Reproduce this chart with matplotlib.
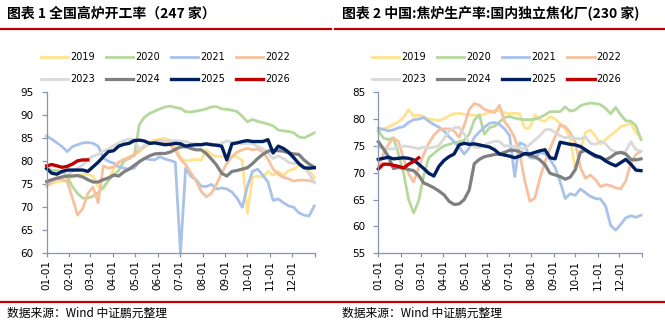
import numpy as np
import matplotlib
matplotlib.use("Agg")
import matplotlib.pyplot as plt
from matplotlib.lines import Line2D

# ---------------------------------------------------------------- data (weekly, %)
years = ["2019", "2020", "2021", "2022", "2023", "2024", "2025", "2026"]

# 全国高炉开工率 (247家)
bf_2019 = [74.7, 75.2, 75.5, 75.7, 76.0, 76.6, 77.0, 77.2, 77.1, 76.8,
           74.5, 74.0, 75.8, 78.3, 79.7, 80.4, 81.0, 81.5, 82.0, 83.2,
           84.2, 84.6, 84.8, 85.0, 84.6, 83.2, 80.8, 80.1, 80.3, 80.4,
           80.2, 82.5, 81.5, 81.0, 81.1, 80.9, 81.2, 81.0, 80.2, 68.7,
           76.5, 76.8, 76.6, 77.8, 77.0, 77.8, 76.9, 78.0, 78.3, 79.0,
           78.8, 78.0, 76.5]
bf_2020 = [78.6, 78.0, 78.0, 77.8, 76.6, 74.5, 73.0, 72.0, 72.0, 72.4,
           73.2, 74.4, 75.8, 77.0, 78.0, 80.0, 80.8, 81.2, 88.0, 89.6,
           90.4, 90.9, 91.4, 91.8, 92.0, 91.7, 91.5, 90.8, 90.7, 90.9,
           91.1, 91.4, 91.8, 91.9, 91.4, 91.3, 91.1, 90.8, 89.8, 88.6,
           89.1, 88.7, 88.4, 88.1, 87.7, 86.8, 86.6, 86.5, 86.2, 85.3,
           85.1, 85.6, 86.2]
bf_2021 = [85.5, 84.8, 84.0, 83.2, 82.1, 83.2, 83.6, 84.0, 84.1, 83.9,
           83.3, 80.7, 80.0, 79.6, 78.8, 78.5, 78.3, 78.5, 80.0, 80.6,
           80.4, 80.3, 81.0, 80.5, 80.2, 79.8, 60.0, 78.5, 76.8, 76.0,
           74.6, 74.5, 75.0, 74.0, 74.2, 74.0, 73.3, 72.0, 70.0, 74.5,
           77.8, 78.3, 77.0, 75.5, 71.5, 71.8, 71.0, 70.3, 70.0, 68.8,
           68.3, 68.1, 70.3]
bf_2022 = [74.6, 75.5, 76.5, 76.0, 75.6, 72.0, 68.3, 69.7, 73.0, 74.4,
           71.0, 79.0, 78.5, 78.8, 79.8, 80.4, 80.5, 81.5, 82.5, 83.2,
           83.8, 84.2, 84.6, 84.3, 83.6, 82.3, 80.5, 79.3, 77.5, 75.8,
           73.5, 72.3, 73.0, 75.0, 77.5, 79.5, 81.0, 82.0, 82.5, 82.8,
           82.5, 82.7, 82.0, 80.5, 78.3, 77.2, 76.5, 76.2, 75.7, 75.9,
           75.9, 75.8, 75.5]
bf_2023 = [75.5, 75.8, 76.2, 76.6, 77.0, 77.8, 78.5, 79.2, 80.5, 81.1,
           81.5, 82.2, 82.7, 83.4, 84.0, 84.5, 84.8, 84.6, 82.6, 83.5,
           84.0, 84.2, 84.2, 84.4, 84.4, 84.5, 84.4, 84.3, 83.9, 83.8,
           83.7, 83.7, 83.8, 83.6, 84.0, 84.4, 84.2, 84.0, 83.8, 83.9,
           83.9, 83.2, 82.7, 81.8, 80.6, 81.2, 80.6, 79.8, 79.5, 79.6,
           78.7, 77.3, 75.3]
bf_2024 = [75.6, 76.0, 76.3, 76.6, 76.8, 76.8, 76.9, 76.6, 76.0, 75.5,
           75.5, 76.0, 76.4, 77.0, 76.8, 77.7, 78.3, 79.1, 79.9, 80.6,
           81.2, 81.6, 81.7, 81.7, 82.0, 82.6, 83.1, 83.2, 82.8, 82.5,
           82.5, 81.7, 80.5, 79.2, 77.4, 76.8, 77.8, 78.0, 78.3, 78.6,
           79.5, 80.6, 81.5, 82.2, 82.4, 82.3, 82.2, 81.8, 81.6, 81.5,
           80.3, 79.4, 78.7]
bf_2025 = [78.4, 77.4, 77.2, 77.8, 78.1, 78.1, 78.1, 78.1, 77.8, 78.8,
           79.8, 81.0, 82.1, 82.3, 83.3, 83.7, 83.9, 84.5, 84.6, 84.4,
           83.9, 84.0, 83.8, 83.6, 83.7, 83.9, 83.8, 83.3, 83.5, 83.6,
           83.6, 83.8, 83.6, 83.5, 83.3, 80.3, 83.8, 84.0, 84.3, 84.5,
           84.3, 84.3, 84.3, 84.7, 81.8, 83.3, 82.8, 82.0, 80.8, 79.5,
           78.6, 78.5, 78.6]
bf_2026 = [79.0, 79.3, 79.0, 78.7, 78.9, 79.4, 80.1, 80.3, 80.3]

# 中国:焦炉生产率:国内独立焦化厂 (230家)
ck_2019 = [77.6, 78.2, 78.5, 79.0, 79.5, 80.3, 81.8, 80.6, 80.8, 80.4,
           80.0, 79.9, 79.7, 80.1, 80.6, 81.0, 81.1, 80.9, 80.8, 80.7,
           80.6, 80.9, 81.3, 81.6, 81.5, 81.2, 81.0, 81.1, 81.0, 78.3,
           78.4, 80.8, 79.8, 79.6, 80.5, 80.0, 79.2, 78.2, 76.5, 70.5,
           74.0, 77.5, 78.0, 76.8, 75.3, 76.2, 77.0, 77.7, 78.6, 78.9,
           79.2, 77.5, 76.5]
ck_2020 = [77.8, 76.5, 76.2, 76.5, 73.5, 70.0, 65.0, 62.5, 64.8, 69.5,
           72.8, 73.6, 74.4, 75.0, 75.3, 75.6, 75.8, 76.1, 77.2, 79.8,
           80.8, 77.2, 78.4, 78.7, 79.5, 80.3, 80.5, 80.2, 80.0, 79.9,
           79.9, 80.0, 80.3, 80.8, 81.4, 81.4, 81.4, 82.3, 81.5, 81.7,
           82.5, 82.8, 83.0, 82.9, 82.7, 82.0, 81.0, 82.2, 80.8, 79.7,
           79.6, 78.8, 76.2]
ck_2021 = [78.3, 78.1, 77.8, 78.0, 78.4, 78.6, 79.4, 79.9, 80.0, 80.3,
           79.6, 79.0, 78.5, 77.8, 76.7, 75.8, 74.8, 73.5, 74.6, 76.6,
           77.6, 78.5, 79.2, 79.4, 79.0, 78.2, 76.9, 69.3, 75.6, 75.2,
           72.8, 72.7, 73.8, 73.5, 72.5, 71.0, 68.3, 65.2, 66.1, 65.8,
           67.0, 66.3, 65.6, 65.2, 65.1, 63.8, 60.2, 59.3, 60.4, 61.6,
           62.0, 61.7, 62.1]
ck_2022 = [71.0, 73.5, 75.3, 76.5, 75.8, 72.7, 69.8, 68.3, 71.0, 73.5,
           75.5, 77.0, 78.0, 78.2, 78.2, 77.8, 76.6, 78.8, 81.8, 82.9,
           82.6, 81.8, 81.5, 81.2, 82.6, 79.5, 78.3, 76.5, 73.5, 68.5,
           64.7, 65.3, 69.0, 72.0, 74.5, 76.7, 78.9, 78.6, 77.5, 75.7,
           71.0, 69.0, 69.6, 68.7, 67.4, 67.8, 67.6, 67.2, 67.0, 68.5,
           71.8, 73.4, 74.0]
ck_2023 = [74.8, 74.6, 74.4, 74.5, 74.8, 75.0, 74.9, 74.7, 74.5, 74.8,
           74.6, 74.8, 75.1, 76.4, 77.8, 78.4, 78.5, 77.2, 75.5, 74.8,
           74.7, 75.1, 75.6, 75.9, 75.8, 75.0, 75.0, 74.9, 74.7, 74.4,
           75.3, 76.1, 76.9, 78.0, 78.1, 77.5, 76.9, 76.5, 76.7, 76.4,
           76.3, 76.7, 75.5, 75.3, 75.9, 75.4, 74.3, 73.9, 73.7, 74.1,
           75.8, 74.3, 74.0]
ck_2024 = [75.8, 74.5, 73.0, 70.8, 71.0, 70.9, 70.6, 70.4, 69.5, 68.1,
           67.7, 67.2, 66.6, 65.9, 64.7, 64.1, 64.2, 65.0, 66.8, 71.7,
           72.5, 73.0, 73.2, 73.4, 73.5, 73.8, 74.2, 74.2, 73.9, 73.5,
           73.2, 73.0, 72.4, 71.5, 69.9, 69.6, 69.3, 68.8, 69.2, 70.6,
           73.8, 74.2, 73.6, 73.0, 72.8, 72.4, 72.9, 73.6, 73.8, 73.5,
           72.5, 72.4, 72.6]
ck_2025 = [72.5, 72.7, 72.9, 72.6, 72.7, 72.8, 72.7, 72.4, 71.6, 70.8,
           69.9, 69.4, 71.2, 72.3, 73.0, 73.5, 75.2, 75.5, 75.3, 75.4,
           75.2, 75.0, 74.8, 74.3, 73.5, 73.3, 73.1, 72.8, 73.1, 73.6,
           73.5, 73.8, 74.1, 74.3, 72.8, 72.6, 75.7, 75.5, 75.3, 75.2,
           74.9, 74.3, 73.7, 73.2, 72.9, 72.2, 71.7, 71.3, 71.9, 72.5,
           71.6, 70.5, 70.4]
ck_2026 = [70.7, 71.6, 71.6, 71.4, 71.2, 70.9, 71.6, 72.1, 72.8]

month_days = [0, 31, 59, 90, 120, 151, 181, 212, 243, 273, 304, 334]
month_labels = ["01-01", "02-01", "03-01", "04-01", "05-01", "06-01",
                "07-01", "08-01", "09-01", "10-01", "11-01", "12-01"]

# ---------------------------------------------------------------- style
colors = ["#FFE38F", "#B5D99C", "#A8C2EA", "#F7C1A0",
          "#D9D9D9", "#7F7F7F", "#002060", "#C00000"]
widths = [2.0, 2.0, 2.0, 2.0, 2.0, 2.3, 2.4, 2.4]
axis_c = "#8496B0"
red = "#C00000"
cjk = ["Noto Sans CJK SC", "DejaVu Sans"]

W, H = 665, 328
fig = plt.figure(figsize=(W / 100, H / 100), dpi=100)


def px(x0, y0, x1, y1):
    # pixel box -> figure fraction rect
    return [x0 / W, 1 - y1 / H, (x1 - x0) / W, (y1 - y0) / H]


def draw_panel(rect, series, ylim, leg_x):
    ax = fig.add_axes(rect)
    handles = []
    for vals, c, lw, yr in zip(series, colors, widths, years):
        days = np.minimum(np.arange(len(vals)) * 7, 364)
        h, = ax.plot(days, vals, color=c, lw=lw, label=yr,
                     solid_joinstyle="round", clip_on=False)
        handles.append(h)
    ax.set_xlim(0, 365)
    ax.set_ylim(*ylim)
    ax.set_yticks(np.arange(ylim[0], ylim[1] + 1, 5))
    ax.set_xticks(month_days)
    ax.set_xticklabels(month_labels, rotation=90)
    ax.set_xticks([365], minor=True)
    for s in ["top", "right"]:
        ax.spines[s].set_visible(False)
    for s in ["left", "bottom"]:
        ax.spines[s].set_color(axis_c)
        ax.spines[s].set_linewidth(0.9)
    ax.tick_params(axis="y", direction="out", length=3.5, width=0.9,
                   color=axis_c, labelsize=7.5, pad=6)
    ax.tick_params(axis="x", which="both", direction="out", length=3,
                   width=0.9, color=axis_c, labelsize=7.5, pad=1.5)
    # legend rows: 2019-2022 / 2023-2026
    order = [0, 4, 1, 5, 2, 6, 3, 7]
    ax.legend([handles[i] for i in order], [years[i] for i in order],
              ncol=4, loc="upper left", bbox_to_anchor=(leg_x / W, 1 - 52.4 / H),
              bbox_transform=fig.transFigure, frameon=False, fontsize=7,
              handlelength=2.8, handletextpad=0.2, columnspacing=1.15,
              labelspacing=1.2, borderpad=0, borderaxespad=0)
    return ax


draw_panel(px(46.7, 92.3, 315, 253.3),
           [bf_2019, bf_2020, bf_2021, bf_2022, bf_2023, bf_2024, bf_2025, bf_2026],
           (60, 95), 40.7)
draw_panel(px(378.3, 92.3, 641.7, 253.3),
           [ck_2019, ck_2020, ck_2021, ck_2022, ck_2023, ck_2024, ck_2025, ck_2026],
           (55, 85), 372)

# titles, rules and source notes
fig.text(7 / W, 1 - 14 / H, "图表 1 全国高炉开工率（247 家）", family=cjk,
         fontsize=10, fontweight="bold", va="center", ha="left")
fig.text(342 / W, 1 - 14 / H, "图表 2 中国:焦炉生产率:国内独立焦化厂(230 家)", family=cjk,
         fontsize=10, fontweight="bold", va="center", ha="left")
fig.add_artist(Line2D([0, 331 / W], [1 - 29 / H] * 2, color=red, lw=1.6))
fig.add_artist(Line2D([335 / W, 1], [1 - 29 / H] * 2, color=red, lw=1.6))
fig.add_artist(Line2D([0, 1], [1 - 301.7 / H] * 2, color=red, lw=1.6))
fig.text(7 / W, 1 - 313 / H, "数据来源：Wind 中证鹏元整理", family=cjk,
         fontsize=8.5, va="center", ha="left")
fig.text(342 / W, 1 - 313 / H, "数据来源：Wind 中证鹏元整理", family=cjk,
         fontsize=8.5, va="center", ha="left")

fig.savefig("out.png", dpi=100)
